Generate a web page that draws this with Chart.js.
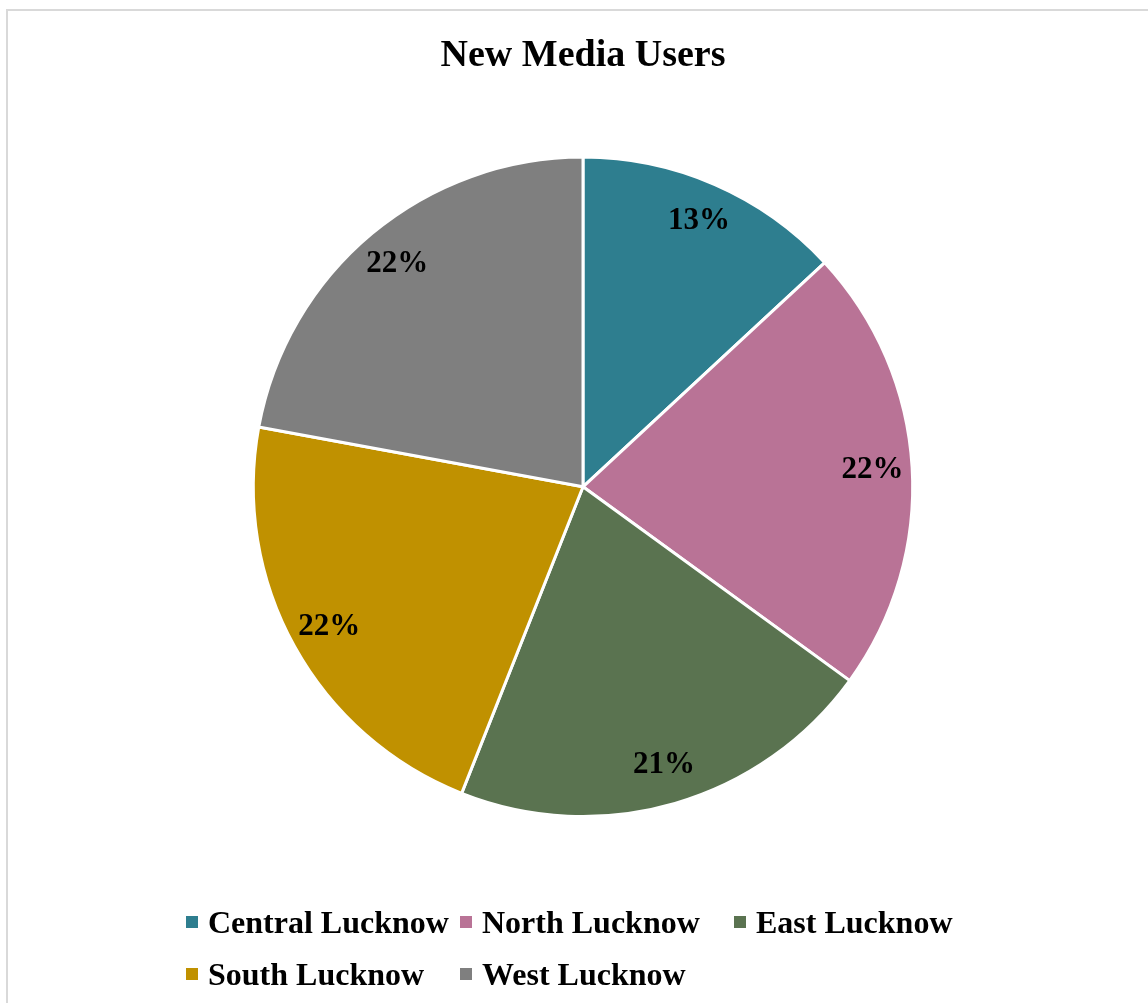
<!DOCTYPE html>
<html>
<head>
<meta charset="utf-8">
<script src="https://cdn.jsdelivr.net/npm/chart.js@4"></script>
<style>
  html, body { margin: 0; padding: 0; background: #fff; overflow: hidden; }
  #frame { position: absolute; left: 6px; top: 9px; width: 1200px; height: 1100px; border: 2px solid #d9d9d9; }
  #wrap { position: absolute; left: 0; top: 0; width: 1148px; height: 1003px; }
  #legend { position: absolute; left: 186px; top: 900px; display: grid; grid-template-columns: 274px 274px 274px;
            row-gap: 8px; font: bold 32px "Liberation Serif", "Times New Roman", serif; color: #000; }
  .item { display: flex; align-items: center; height: 44px; white-space: nowrap; }
  .box { width: 12px; height: 12px; margin-right: 10px; flex: none; }
</style>
</head>
<body>
<div id="frame"></div>
<div id="wrap"><canvas id="myChart" width="1148" height="1003"></canvas></div>
<div id="legend"></div>
<script>
// so lieu doc tu hinh
const regions = ['Central Lucknow', 'North Lucknow', 'East Lucknow', 'South Lucknow', 'West Lucknow'];
const shares = [13.1, 21.9, 21.0, 21.9, 22.1];
const colors = ['#2E7E8F', '#B97396', '#5A7350', '#C09100', '#7F7F7F'];
const chartTitle = 'New Media Users';

const serif = '"Liberation Serif", "Times New Roman", serif';

// nhan phan tram tren tung lat
const pctLabels = {
    id: 'pctLabels',
    afterDatasetsDraw(chart) {
        const ctx = chart.ctx;
        const data = chart.data.datasets[0].data;
        const total = data.reduce((a, b) => a + b, 0);
        ctx.save();
        ctx.font = 'bold 31px ' + serif;
        ctx.fillStyle = '#000';
        ctx.textAlign = 'center';
        ctx.textBaseline = 'middle';
        chart.getDatasetMeta(0).data.forEach((arc, i) => {
            const p = arc.getProps(['x', 'y', 'startAngle', 'endAngle', 'outerRadius'], true);
            const mid = (p.startAngle + p.endAngle) / 2;
            const r = p.outerRadius * 0.88;
            const txt = Math.round(data[i] / total * 100) + '%';
            ctx.fillText(txt, p.x + Math.cos(mid) * r, p.y + Math.sin(mid) * r);
        });
        ctx.restore();
    }
};

const ctx = document.getElementById('myChart').getContext('2d');
const myChart = new Chart(ctx, {
    type: 'pie',
    data: {
        labels: regions,
        datasets: [{
            data: shares,
            backgroundColor: colors,
            borderColor: '#ffffff',
            borderWidth: 3
        }]
    },
    options: {
        responsive: false,
        animation: false,
        layout: { padding: { top: 33, bottom: 185, left: 183, right: 165 } },
        plugins: {
            legend: { display: false },
            tooltip: { enabled: false },
            title: {
                display: true,
                text: chartTitle,
                color: '#000',
                font: { family: serif, size: 38, weight: 'bold', lineHeight: 1.2 },
                padding: { top: 0, bottom: 77 }
            }
        }
    },
    plugins: [pctLabels]
});

// chu giai dang luoi nhu Excel
let html = '';
regions.forEach((name, i) => {
    html += `<div class="item"><span class="box" style="background:${colors[i]}"></span>${name}</div>`;
});
document.getElementById('legend').innerHTML = html;
</script>
</body>
</html>
